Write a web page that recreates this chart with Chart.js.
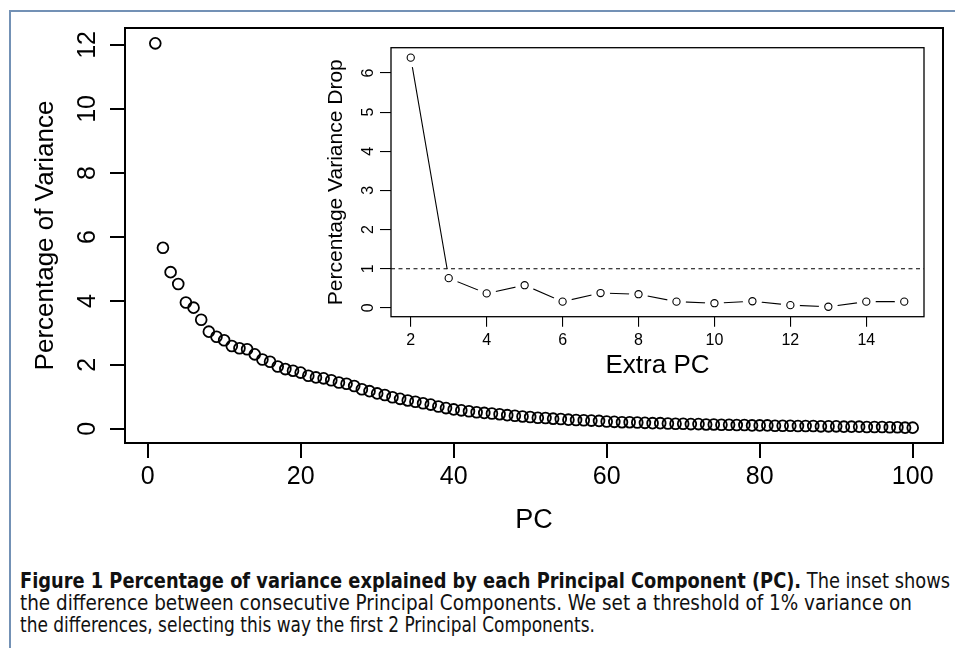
<!DOCTYPE html>
<html><head><meta charset="utf-8">
<script src="https://cdn.jsdelivr.net/npm/chart.js@4.4.1/dist/chart.umd.min.js"></script>
<style>
html,body{margin:0;padding:0;background:#fff;width:955px;height:648px;overflow:hidden;position:relative;}
#frame{position:absolute;left:9px;top:10px;width:960px;height:660px;border-left:2px solid #7391b5;border-top:2px solid #7391b5;}
#main{position:absolute;left:0;top:0;}
#inset{position:absolute;left:310px;top:30px;}
#caption{position:absolute;left:20px;top:570px;font-family:"Liberation Sans Narrow","DejaVu Sans Condensed","Liberation Sans",sans-serif;font-size:20.5px;line-height:22px;color:#111;}
.ln{white-space:nowrap;transform-origin:0 0;display:inline-block;}
</style></head>
<body>
<div id="frame"></div>
<canvas id="main" width="955" height="560"></canvas>
<canvas id="inset" width="630" height="360"></canvas>
<div id="caption">
<div class="ln" data-w="930"><b>Figure 1 Percentage of variance explained by each Principal Component (PC).</b> The inset shows</div><br>
<div class="ln" data-w="892">the difference between consecutive Principal Components. We set a threshold of 1% variance on</div><br>
<div class="ln" data-w="575">the differences, selecting this way the first 2 Principal Components.</div>
</div>
<script>
// ---- data ----
const pcIndex = Array.from({length:100},(_,i)=>i+1);
const varianceExplained = [
12.05, 5.66, 4.90, 4.53, 3.95, 3.79, 3.41, 3.04, 2.88, 2.77,
2.59, 2.52, 2.49, 2.33, 2.17, 2.10, 1.95, 1.87, 1.82, 1.76,
1.66, 1.61, 1.58, 1.52, 1.45, 1.41, 1.34, 1.24, 1.18, 1.11,
1.06, 0.99, 0.94, 0.89, 0.85, 0.80, 0.76, 0.70, 0.65, 0.61,
0.58, 0.55, 0.52, 0.50, 0.48, 0.46, 0.43, 0.41, 0.39, 0.37,
0.35, 0.34, 0.32, 0.31, 0.29, 0.28, 0.27, 0.26, 0.25, 0.23,
0.22, 0.21, 0.21, 0.20, 0.19, 0.18, 0.18, 0.17, 0.16, 0.16,
0.15, 0.15, 0.14, 0.14, 0.13, 0.13, 0.12, 0.12, 0.11, 0.11,
0.11, 0.10, 0.10, 0.10, 0.09, 0.09, 0.09, 0.08, 0.08, 0.08,
0.07, 0.07, 0.07, 0.06, 0.06, 0.06, 0.05, 0.05, 0.04, 0.04];
const mainXTicks = [0,20,40,60,80,100];
const mainYTicks = [0,2,4,6,8,10,12];

const extraPC = [2,3,4,5,6,7,8,9,10,11,12,13,14,15];
const varianceDrop = [6.39,0.76,0.37,0.58,0.16,0.38,0.35,0.16,0.12,0.17,0.07,0.03,0.16,0.16];
const insetXTicks = [2,4,6,8,10,12,14];
const insetYTicks = [0,1,2,3,4,5,6];
const dropThreshold = 1;

// ---- helpers ----
function rRange(a){const mn=Math.min(...a),mx=Math.max(...a),d=(mx-mn)*0.04;return [mn-d,mx+d];}
const FONT = "'Liberation Sans', Arial, Helvetica, sans-serif";
const framePlugin = {id:'frame', afterDraw(chart,args,opts){
  const {ctx,chartArea:a}=chart; ctx.save(); ctx.lineWidth=opts.width||1; ctx.strokeStyle='#000';
  ctx.strokeRect(a.left,a.top,a.right-a.left,a.bottom-a.top); ctx.restore();}};
const thresholdPlugin = {id:'threshold', afterDatasetsDraw(chart,args,opts){
  const {ctx,chartArea:a,scales}=chart; const y=scales.y.getPixelForValue(opts.value);
  ctx.save(); ctx.setLineDash([4,3.5]); ctx.lineWidth=1.1; ctx.strokeStyle='#000';
  ctx.beginPath(); ctx.moveTo(a.left,y); ctx.lineTo(a.right,y); ctx.stroke(); ctx.restore();}};

function axis(opts){
  return {
    type:'linear', min:opts.range[0], max:opts.range[1],
    afterBuildTicks:s=>{s.ticks=opts.ticks.map(v=>({value:v}));},
    afterFit:s=>{ if(opts.width!==undefined) s.width=opts.width; if(opts.height!==undefined) s.height=opts.height; },
    grid:{display:true,drawOnChartArea:false,drawTicks:true,tickLength:opts.tl,color:'#000',lineWidth:opts.lw},
    border:{display:false},
    ticks:{font:{family:FONT,size:opts.fs},color:'#000',padding:opts.pad,autoSkip:false,
      minRotation:opts.rot,maxRotation:opts.rot,crossAlign:opts.cross||'near'},
    title:{display:true,text:opts.title,color:'#000',font:{family:FONT,size:opts.tfs},padding:opts.tpad}
  };
}

// ---- main chart ----
new Chart(document.getElementById('main'),{
  type:'scatter',
  data:{datasets:[{data:pcIndex.map((p,i)=>({x:p,y:varianceExplained[i]})),
    pointRadius:5.4,pointBorderWidth:1.8,pointBorderColor:'#000',pointBackgroundColor:'rgba(0,0,0,0)',showLine:false}]},
  options:{responsive:false,animation:false,devicePixelRatio:1,
    layout:{padding:{left:0,top:28,right:12,bottom:17}},
    plugins:{legend:{display:false},tooltip:{enabled:false},frame:{width:2}},
    scales:{
      x:axis({range:rRange(pcIndex),ticks:mainXTicks,height:100,tl:15,lw:2,fs:25,pad:4,rot:0,title:'PC',tfs:27,tpad:{top:0,bottom:6}}),
      y:axis({range:rRange(varianceExplained),ticks:mainYTicks,width:125,tl:15,lw:2,fs:25,pad:8,rot:90,cross:'center',title:'Percentage of Variance',tfs:26,tpad:{top:30,bottom:0}})
    }},
  plugins:[framePlugin]
});

// ---- inset chart ----
const dropPts = extraPC.map((p,i)=>({x:p,y:varianceDrop[i]}));
new Chart(document.getElementById('inset'),{
  type:'scatter',
  data:{datasets:[
    {data:dropPts,showLine:false,pointRadius:3.6,pointBorderWidth:1.1,pointBorderColor:'#000',pointBackgroundColor:'rgba(0,0,0,0)',order:0},
    {data:dropPts,showLine:true,borderColor:'#000',borderWidth:1.1,pointRadius:9.5,pointBorderWidth:0,pointBorderColor:'#fff',pointBackgroundColor:'#fff',order:1}
  ]},
  options:{responsive:false,animation:false,devicePixelRatio:1,
    layout:{padding:{left:0,top:17.7,right:16,bottom:3.3}},
    plugins:{legend:{display:false},tooltip:{enabled:false},frame:{width:1.3},threshold:{value:dropThreshold}},
    scales:{
      x:axis({range:rRange(extraPC),ticks:insetXTicks,height:70,tl:10,lw:1.1,fs:16,pad:4.7,rot:0,title:'Extra PC',tfs:26,tpad:{top:0,bottom:5.4}}),
      y:axis({range:rRange(varianceDrop),ticks:insetYTicks,width:81,tl:11,lw:1.1,fs:16,pad:6.5,rot:90,cross:'center',title:'Percentage Variance Drop',tfs:21,tpad:{top:13.4,bottom:0}})
    }},
  plugins:[framePlugin,thresholdPlugin]
});

// ---- caption fit (each line to its measured width in the reference) ----
function fitCaption(){
  document.querySelectorAll('.ln').forEach(e=>{
    e.style.transform='none';
    const w=e.getBoundingClientRect().width;
    e.style.transform='scaleX('+(parseFloat(e.dataset.w)/w)+')';
  });
}
fitCaption();
if(document.fonts&&document.fonts.ready) document.fonts.ready.then(fitCaption);
</script>
</body></html>
